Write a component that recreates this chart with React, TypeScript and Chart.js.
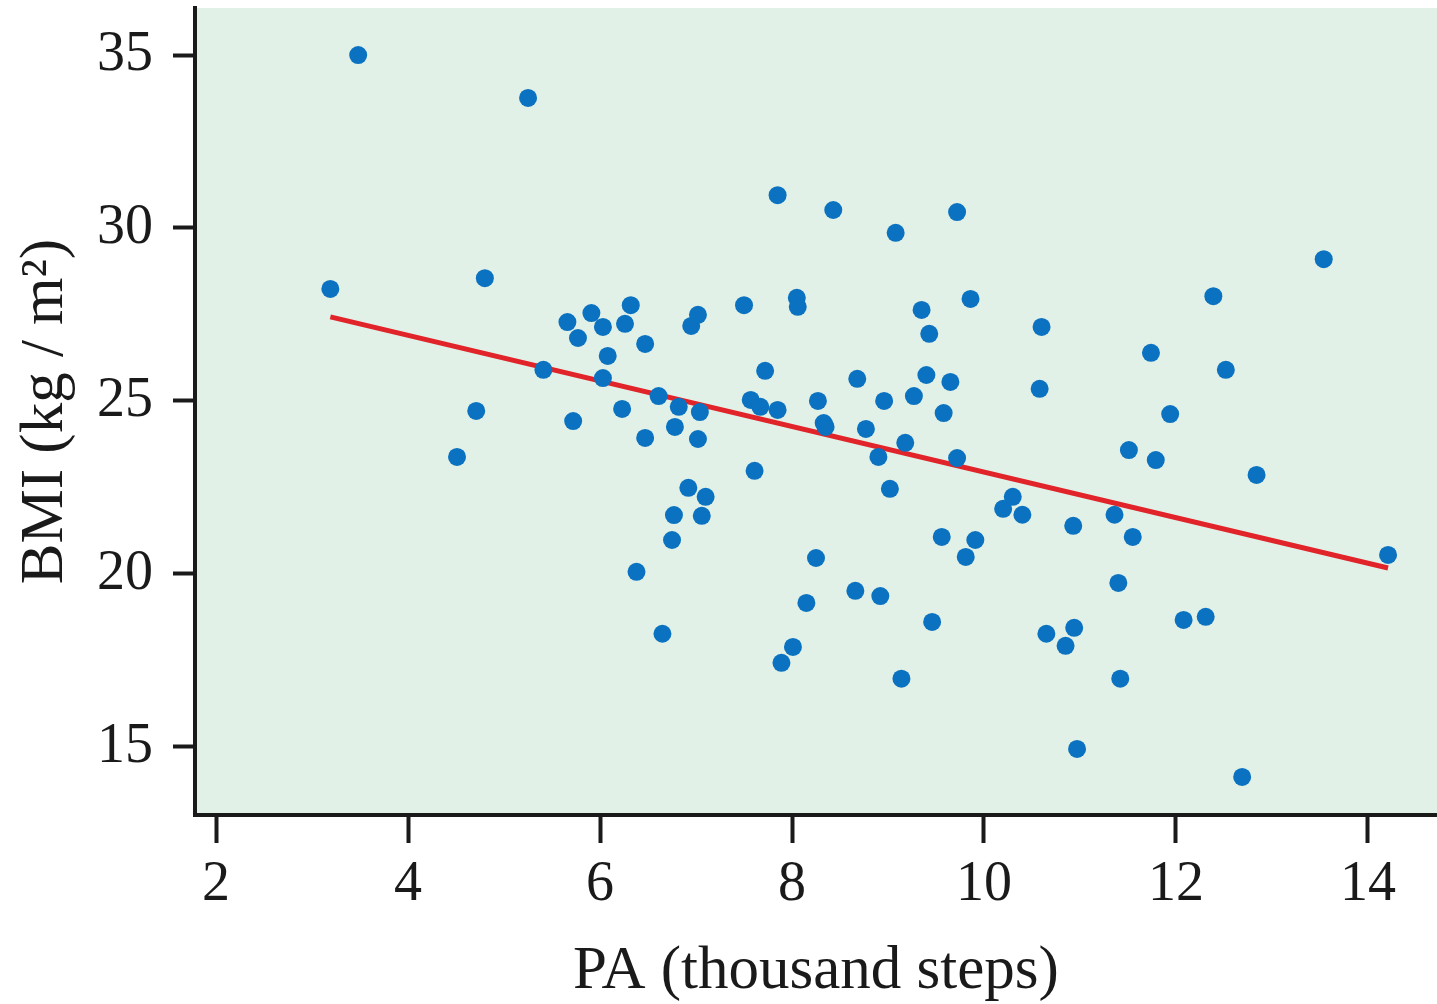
import React, { useEffect, useRef } from "react";
import { Chart, registerables } from "chart.js";

Chart.register(...registerables);

// PA (thousand steps)
const paValues: number[] = [
  3.19, 3.48, 4.51, 4.71, 4.80, 5.25, 5.41, 5.66, 5.72, 5.77,
  5.91, 6.03, 6.08, 6.03, 6.23, 6.26, 6.32, 6.47, 6.47, 6.38,
  6.65, 6.61, 6.75, 6.77, 6.78, 6.82, 6.92, 6.95, 7.02, 7.02,
  7.04, 7.06, 7.10, 7.50, 7.57, 7.61, 7.67, 7.72, 7.85, 7.89,
  7.85, 8.01, 8.05, 8.06, 8.15, 8.25, 8.27, 8.33, 8.35, 8.43,
  8.66, 8.68, 8.77, 8.90, 8.92, 8.96, 9.02, 9.08, 9.14, 9.18,
  9.27, 9.35, 9.40, 9.43, 9.46, 9.56, 9.58, 9.65, 9.72, 9.72,
  9.81, 9.86, 9.91, 10.20, 10.30, 10.40, 10.58, 10.60, 10.65, 10.85,
  10.93, 10.94, 10.97, 11.36, 11.40, 11.42, 11.51, 11.55, 11.74, 11.79,
  11.94, 12.08, 12.31, 12.39, 12.52, 12.69, 12.84, 13.54, 14.21,
];

// BMI (kg/m2)
const bmiValues: number[] = [
  28.24, 35.0, 23.38, 24.71, 28.55, 33.76, 25.9, 27.28, 24.42, 26.82,
  27.54, 27.14, 26.30, 25.66, 24.77, 27.23, 27.77, 26.65, 23.93, 20.06,
  18.27, 25.14, 20.98, 21.7, 24.25, 24.83, 22.49, 27.17, 27.49, 23.9,
  24.68, 21.68, 22.23, 27.77, 25.03, 22.98, 24.83, 25.87, 24.74, 17.43,
  30.95, 17.89, 27.98, 27.72, 19.16, 20.46, 25.0, 24.36, 24.25, 30.52,
  19.51, 25.64, 24.19, 23.38, 19.36, 25.0, 22.46, 29.86, 16.97, 23.79,
  25.14, 27.63, 25.75, 26.94, 18.61, 21.07, 24.65, 25.55, 30.46, 23.35,
  20.49, 27.95, 20.98, 21.88, 22.23, 21.71, 25.35, 27.14, 18.27, 17.92,
  21.39, 18.44, 14.94, 21.71, 19.74, 16.97, 23.58, 21.07, 26.39, 23.29,
  24.62, 18.67, 18.76, 28.03, 25.9, 14.13, 22.86, 29.1, 20.55,
];

// Fitted line end points
const fitX: number[] = [3.19, 14.21];
const fitY: number[] = [27.43, 20.17];

const xTicks: number[] = [2, 4, 6, 8, 10, 12, 14];
const yTicks: number[] = [15, 20, 25, 30, 35];

const xTitle = "PA (thousand steps)";
const yTitle = "BMI (kg / m\u00B2)";

const FONT = '"Liberation Serif", "Times New Roman", serif';
const INK = "#1a1a1a";

const bgPlugin = {
  id: "plotBg",
  beforeDraw(chart: any) {
    const { ctx, chartArea } = chart;
    if (!chartArea) return;
    ctx.save();
    ctx.fillStyle = "#e2f1e7";
    ctx.fillRect(
      chartArea.left,
      chartArea.top,
      chartArea.right - chartArea.left,
      chartArea.bottom - chartArea.top
    );
    ctx.restore();
  },
};

export default function App() {
  const ref = useRef<HTMLCanvasElement | null>(null);

  useEffect(() => {
    if (!ref.current) return;
    const points = paValues.map((x, i) => ({ x, y: bmiValues[i] }));
    const fit = fitX.map((x, i) => ({ x, y: fitY[i] }));

    const chart = new Chart(ref.current, {
      type: "scatter",
      data: {
        datasets: [
          {
            type: "scatter",
            data: points,
            order: 1,
            pointRadius: 9,
            pointHoverRadius: 9,
            pointBackgroundColor: "#0a72c0",
            pointBorderColor: "#0a72c0",
            pointBorderWidth: 0,
          } as any,
          {
            type: "line",
            data: fit,
            order: 2,
            borderColor: "#e0242a",
            borderWidth: 5,
            pointRadius: 0,
            fill: false,
            tension: 0,
          } as any,
        ],
      },
      options: {
        animation: false,
        responsive: false,
        maintainAspectRatio: false,
        layout: { padding: { top: 8, left: 0, right: 0, bottom: 0 }, autoPadding: false } as any,
        plugins: {
          legend: { display: false },
          tooltip: { enabled: false },
        },
        scales: {
          x: {
            type: "linear",
            min: 1.78,
            max: 14.72,
            afterBuildTicks: (s: any) => {
              s.ticks = xTicks.map((v) => ({ value: v }));
            },
            afterFit: (s: any) => {
              s.height = 189;
              s.paddingLeft = 0;
              s.paddingRight = 0;
            },
            border: { display: true, color: INK, width: 4 },
            grid: {
              drawOnChartArea: false,
              drawTicks: true,
              tickLength: 28,
              tickWidth: 4,
              tickColor: INK,
            },
            ticks: {
              font: { family: FONT, size: 56 },
              color: INK,
              padding: 9,
              maxRotation: 0,
              autoSkip: false,
            },
            title: {
              display: true,
              text: xTitle,
              color: INK,
              font: { family: FONT, size: 61, lineHeight: 1 },
              padding: { top: 0, bottom: 2 },
            },
          },
          y: {
            type: "linear",
            min: 13.03,
            max: 36.36,
            afterBuildTicks: (s: any) => {
              s.ticks = yTicks.map((v) => ({ value: v }));
            },
            afterFit: (s: any) => {
              s.width = 195;
              s.paddingTop = 0;
              s.paddingBottom = 0;
            },
            border: { display: true, color: INK, width: 4 },
            grid: {
              drawOnChartArea: false,
              drawTicks: true,
              tickLength: 22,
              tickWidth: 4,
              tickColor: INK,
            },
            ticks: {
              font: { family: FONT, size: 56 },
              color: INK,
              padding: 20,
              autoSkip: false,
            },
            title: {
              display: true,
              text: yTitle,
              color: INK,
              font: { family: FONT, size: 61, lineHeight: 1 },
              padding: { top: 15, bottom: 0 },
            },
          },
        },
      } as any,
      plugins: [bgPlugin],
    });

    return () => chart.destroy();
  }, []);

  return (
    <div style={{ position: "fixed", left: 0, top: 0, width: 1437, height: 1004, background: "#ffffff" }}>
      <canvas ref={ref} width={1437} height={1004} style={{ display: "block", width: 1437, height: 1004 }} />
    </div>
  );
}
